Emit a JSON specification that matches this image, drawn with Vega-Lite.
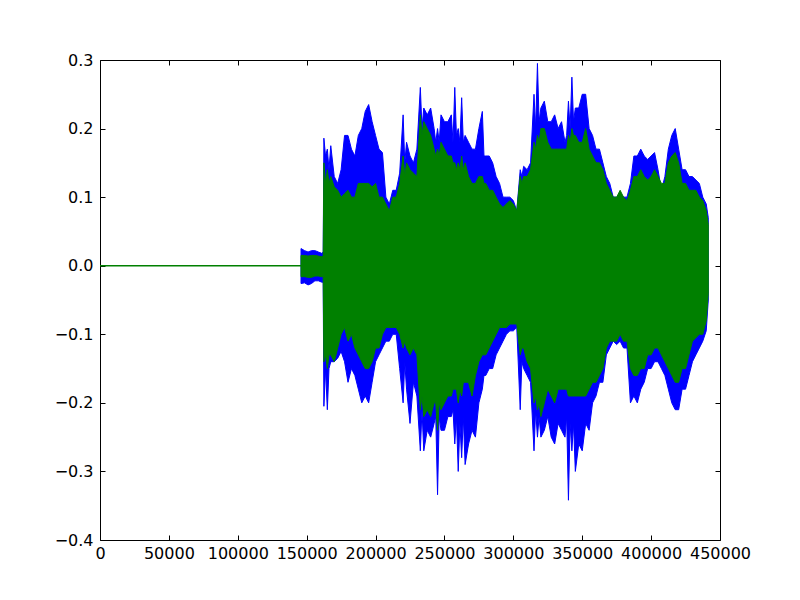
{
  "$schema": "https://vega.github.io/schema/vega-lite/v6.json",
  "width": 620,
  "height": 480,
  "autosize": "none",
  "padding": {"left": 100, "top": 60, "right": 80, "bottom": 60},
  "background": "white",
  "datasets": {
    "env": [
      {"x": 145900, "bhi": 0.025, "blo": -0.026, "ghi": 0.015, "glo": -0.016},
      {"x": 148500, "bhi": 0.022, "blo": -0.025, "ghi": 0.015, "glo": -0.016},
      {"x": 151000, "bhi": 0.02, "blo": -0.028, "ghi": 0.014, "glo": -0.017},
      {"x": 153500, "bhi": 0.022, "blo": -0.026, "ghi": 0.015, "glo": -0.017},
      {"x": 156000, "bhi": 0.022, "blo": -0.022, "ghi": 0.015, "glo": -0.015},
      {"x": 158500, "bhi": 0.02, "blo": -0.022, "ghi": 0.014, "glo": -0.015},
      {"x": 161000, "bhi": 0.018, "blo": -0.024, "ghi": 0.013, "glo": -0.016},
      {"x": 162000, "bhi": 0.02, "blo": -0.024, "ghi": 0.014, "glo": -0.016},
      {"x": 162500, "bhi": 0.186, "blo": -0.205, "ghi": 0.15, "glo": -0.14},
      {"x": 163700, "bhi": 0.16, "blo": -0.15, "ghi": 0.12, "glo": -0.13},
      {"x": 165000, "bhi": 0.17, "blo": -0.21, "ghi": 0.14, "glo": -0.15},
      {"x": 166200, "bhi": 0.14, "blo": -0.15, "ghi": 0.12, "glo": -0.13},
      {"x": 167500, "bhi": 0.175, "blo": -0.14, "ghi": 0.13, "glo": -0.13},
      {"x": 170000, "bhi": 0.13, "blo": -0.14, "ghi": 0.115, "glo": -0.14},
      {"x": 172500, "bhi": 0.12, "blo": -0.135, "ghi": 0.11, "glo": -0.12},
      {"x": 175000, "bhi": 0.14, "blo": -0.125, "ghi": 0.1, "glo": -0.1},
      {"x": 177500, "bhi": 0.19, "blo": -0.14, "ghi": 0.105, "glo": -0.09},
      {"x": 180000, "bhi": 0.19, "blo": -0.17, "ghi": 0.11, "glo": -0.11},
      {"x": 182500, "bhi": 0.17, "blo": -0.15, "ghi": 0.1, "glo": -0.1},
      {"x": 185000, "bhi": 0.16, "blo": -0.16, "ghi": 0.1, "glo": -0.12},
      {"x": 187500, "bhi": 0.19, "blo": -0.18, "ghi": 0.12, "glo": -0.13},
      {"x": 190000, "bhi": 0.2, "blo": -0.2, "ghi": 0.12, "glo": -0.14},
      {"x": 192500, "bhi": 0.225, "blo": -0.19, "ghi": 0.12, "glo": -0.15},
      {"x": 195000, "bhi": 0.235, "blo": -0.2, "ghi": 0.12, "glo": -0.15},
      {"x": 197500, "bhi": 0.21, "blo": -0.17, "ghi": 0.115, "glo": -0.14},
      {"x": 200000, "bhi": 0.19, "blo": -0.14, "ghi": 0.12, "glo": -0.12},
      {"x": 202500, "bhi": 0.17, "blo": -0.13, "ghi": 0.1, "glo": -0.12},
      {"x": 205000, "bhi": 0.165, "blo": -0.12, "ghi": 0.1, "glo": -0.1},
      {"x": 207500, "bhi": 0.1, "blo": -0.11, "ghi": 0.09, "glo": -0.09},
      {"x": 210000, "bhi": 0.09, "blo": -0.11, "ghi": 0.08, "glo": -0.09},
      {"x": 212500, "bhi": 0.11, "blo": -0.1, "ghi": 0.1, "glo": -0.09},
      {"x": 215000, "bhi": 0.11, "blo": -0.1, "ghi": 0.1, "glo": -0.09},
      {"x": 217500, "bhi": 0.135, "blo": -0.15, "ghi": 0.12, "glo": -0.1},
      {"x": 220000, "bhi": 0.22, "blo": -0.2, "ghi": 0.16, "glo": -0.12},
      {"x": 221200, "bhi": 0.15, "blo": -0.14, "ghi": 0.13, "glo": -0.11},
      {"x": 222500, "bhi": 0.18, "blo": -0.18, "ghi": 0.15, "glo": -0.12},
      {"x": 225000, "bhi": 0.16, "blo": -0.23, "ghi": 0.14, "glo": -0.13},
      {"x": 227500, "bhi": 0.15, "blo": -0.17, "ghi": 0.135, "glo": -0.12},
      {"x": 230000, "bhi": 0.17, "blo": -0.19, "ghi": 0.13, "glo": -0.13},
      {"x": 232500, "bhi": 0.26, "blo": -0.27, "ghi": 0.22, "glo": -0.21},
      {"x": 233700, "bhi": 0.2, "blo": -0.21, "ghi": 0.19, "glo": -0.19},
      {"x": 235000, "bhi": 0.23, "blo": -0.27, "ghi": 0.21, "glo": -0.22},
      {"x": 237500, "bhi": 0.22, "blo": -0.24, "ghi": 0.2, "glo": -0.21},
      {"x": 240000, "bhi": 0.23, "blo": -0.25, "ghi": 0.19, "glo": -0.22},
      {"x": 242500, "bhi": 0.2, "blo": -0.23, "ghi": 0.17, "glo": -0.2},
      {"x": 243700, "bhi": 0.18, "blo": -0.22, "ghi": 0.16, "glo": -0.2},
      {"x": 245000, "bhi": 0.2, "blo": -0.334, "ghi": 0.17, "glo": -0.24},
      {"x": 246200, "bhi": 0.18, "blo": -0.22, "ghi": 0.16, "glo": -0.2},
      {"x": 247500, "bhi": 0.22, "blo": -0.24, "ghi": 0.18, "glo": -0.21},
      {"x": 250000, "bhi": 0.21, "blo": -0.24, "ghi": 0.17, "glo": -0.2},
      {"x": 252500, "bhi": 0.21, "blo": -0.22, "ghi": 0.16, "glo": -0.19},
      {"x": 255000, "bhi": 0.22, "blo": -0.22, "ghi": 0.16, "glo": -0.19},
      {"x": 256200, "bhi": 0.18, "blo": -0.21, "ghi": 0.15, "glo": -0.18},
      {"x": 257500, "bhi": 0.26, "blo": -0.26, "ghi": 0.15, "glo": -0.18},
      {"x": 258700, "bhi": 0.19, "blo": -0.22, "ghi": 0.14, "glo": -0.18},
      {"x": 260000, "bhi": 0.2, "blo": -0.3, "ghi": 0.15, "glo": -0.2},
      {"x": 261200, "bhi": 0.18, "blo": -0.23, "ghi": 0.14, "glo": -0.18},
      {"x": 262500, "bhi": 0.245, "blo": -0.28, "ghi": 0.16, "glo": -0.19},
      {"x": 263700, "bhi": 0.18, "blo": -0.22, "ghi": 0.14, "glo": -0.17},
      {"x": 265000, "bhi": 0.19, "blo": -0.29, "ghi": 0.15, "glo": -0.17},
      {"x": 267500, "bhi": 0.18, "blo": -0.26, "ghi": 0.13, "glo": -0.17},
      {"x": 270000, "bhi": 0.17, "blo": -0.24, "ghi": 0.12, "glo": -0.19},
      {"x": 272500, "bhi": 0.17, "blo": -0.25, "ghi": 0.12, "glo": -0.16},
      {"x": 275000, "bhi": 0.2, "blo": -0.2, "ghi": 0.13, "glo": -0.14},
      {"x": 277500, "bhi": 0.225, "blo": -0.18, "ghi": 0.13, "glo": -0.13},
      {"x": 278700, "bhi": 0.16, "blo": -0.16, "ghi": 0.12, "glo": -0.13},
      {"x": 280000, "bhi": 0.16, "blo": -0.16, "ghi": 0.12, "glo": -0.13},
      {"x": 282500, "bhi": 0.16, "blo": -0.15, "ghi": 0.11, "glo": -0.12},
      {"x": 285000, "bhi": 0.15, "blo": -0.15, "ghi": 0.11, "glo": -0.11},
      {"x": 287500, "bhi": 0.13, "blo": -0.13, "ghi": 0.1, "glo": -0.1},
      {"x": 290000, "bhi": 0.12, "blo": -0.12, "ghi": 0.09, "glo": -0.09},
      {"x": 292500, "bhi": 0.1, "blo": -0.11, "ghi": 0.085, "glo": -0.09},
      {"x": 295000, "bhi": 0.1, "blo": -0.1, "ghi": 0.09, "glo": -0.09},
      {"x": 297500, "bhi": 0.1, "blo": -0.095, "ghi": 0.095, "glo": -0.085},
      {"x": 300000, "bhi": 0.095, "blo": -0.095, "ghi": 0.09, "glo": -0.085},
      {"x": 302500, "bhi": 0.08, "blo": -0.09, "ghi": 0.08, "glo": -0.085},
      {"x": 305000, "bhi": 0.14, "blo": -0.21, "ghi": 0.13, "glo": -0.13},
      {"x": 306200, "bhi": 0.13, "blo": -0.14, "ghi": 0.12, "glo": -0.12},
      {"x": 307500, "bhi": 0.145, "blo": -0.15, "ghi": 0.13, "glo": -0.12},
      {"x": 310000, "bhi": 0.14, "blo": -0.16, "ghi": 0.13, "glo": -0.14},
      {"x": 312500, "bhi": 0.15, "blo": -0.17, "ghi": 0.14, "glo": -0.15},
      {"x": 315000, "bhi": 0.25, "blo": -0.27, "ghi": 0.18, "glo": -0.2},
      {"x": 316200, "bhi": 0.2, "blo": -0.21, "ghi": 0.17, "glo": -0.19},
      {"x": 317500, "bhi": 0.295, "blo": -0.25, "ghi": 0.19, "glo": -0.21},
      {"x": 318700, "bhi": 0.21, "blo": -0.22, "ghi": 0.18, "glo": -0.2},
      {"x": 320000, "bhi": 0.23, "blo": -0.25, "ghi": 0.2, "glo": -0.22},
      {"x": 322500, "bhi": 0.24, "blo": -0.24, "ghi": 0.2, "glo": -0.2},
      {"x": 325000, "bhi": 0.21, "blo": -0.22, "ghi": 0.18, "glo": -0.18},
      {"x": 327500, "bhi": 0.21, "blo": -0.25, "ghi": 0.17, "glo": -0.19},
      {"x": 330000, "bhi": 0.22, "blo": -0.26, "ghi": 0.17, "glo": -0.2},
      {"x": 332500, "bhi": 0.2, "blo": -0.23, "ghi": 0.17, "glo": -0.18},
      {"x": 335000, "bhi": 0.21, "blo": -0.24, "ghi": 0.17, "glo": -0.18},
      {"x": 337500, "bhi": 0.18, "blo": -0.25, "ghi": 0.17, "glo": -0.18},
      {"x": 338700, "bhi": 0.19, "blo": -0.22, "ghi": 0.17, "glo": -0.18},
      {"x": 340000, "bhi": 0.24, "blo": -0.342, "ghi": 0.19, "glo": -0.19},
      {"x": 341200, "bhi": 0.2, "blo": -0.23, "ghi": 0.18, "glo": -0.19},
      {"x": 342500, "bhi": 0.275, "blo": -0.27, "ghi": 0.2, "glo": -0.19},
      {"x": 343700, "bhi": 0.21, "blo": -0.23, "ghi": 0.19, "glo": -0.19},
      {"x": 345000, "bhi": 0.23, "blo": -0.3, "ghi": 0.19, "glo": -0.19},
      {"x": 347500, "bhi": 0.23, "blo": -0.26, "ghi": 0.18, "glo": -0.19},
      {"x": 350000, "bhi": 0.25, "blo": -0.27, "ghi": 0.18, "glo": -0.19},
      {"x": 352500, "bhi": 0.25, "blo": -0.23, "ghi": 0.2, "glo": -0.19},
      {"x": 355000, "bhi": 0.2, "blo": -0.24, "ghi": 0.17, "glo": -0.18},
      {"x": 357500, "bhi": 0.19, "blo": -0.2, "ghi": 0.16, "glo": -0.17},
      {"x": 360000, "bhi": 0.17, "blo": -0.19, "ghi": 0.15, "glo": -0.17},
      {"x": 362500, "bhi": 0.17, "blo": -0.17, "ghi": 0.15, "glo": -0.16},
      {"x": 365000, "bhi": 0.15, "blo": -0.17, "ghi": 0.14, "glo": -0.15},
      {"x": 367500, "bhi": 0.13, "blo": -0.13, "ghi": 0.12, "glo": -0.12},
      {"x": 370000, "bhi": 0.12, "blo": -0.12, "ghi": 0.11, "glo": -0.11},
      {"x": 372500, "bhi": 0.1, "blo": -0.11, "ghi": 0.1, "glo": -0.11},
      {"x": 375000, "bhi": 0.1, "blo": -0.115, "ghi": 0.1, "glo": -0.11},
      {"x": 377500, "bhi": 0.105, "blo": -0.11, "ghi": 0.11, "glo": -0.1},
      {"x": 380000, "bhi": 0.1, "blo": -0.12, "ghi": 0.1, "glo": -0.11},
      {"x": 382500, "bhi": 0.1, "blo": -0.12, "ghi": 0.095, "glo": -0.11},
      {"x": 385000, "bhi": 0.12, "blo": -0.2, "ghi": 0.11, "glo": -0.15},
      {"x": 387500, "bhi": 0.16, "blo": -0.19, "ghi": 0.13, "glo": -0.16},
      {"x": 390000, "bhi": 0.16, "blo": -0.2, "ghi": 0.13, "glo": -0.16},
      {"x": 392500, "bhi": 0.17, "blo": -0.18, "ghi": 0.14, "glo": -0.15},
      {"x": 395000, "bhi": 0.16, "blo": -0.17, "ghi": 0.13, "glo": -0.15},
      {"x": 397500, "bhi": 0.155, "blo": -0.15, "ghi": 0.125, "glo": -0.13},
      {"x": 400000, "bhi": 0.16, "blo": -0.15, "ghi": 0.13, "glo": -0.13},
      {"x": 402500, "bhi": 0.165, "blo": -0.14, "ghi": 0.14, "glo": -0.12},
      {"x": 405000, "bhi": 0.14, "blo": -0.14, "ghi": 0.13, "glo": -0.12},
      {"x": 407500, "bhi": 0.11, "blo": -0.15, "ghi": 0.12, "glo": -0.13},
      {"x": 410000, "bhi": 0.13, "blo": -0.16, "ghi": 0.12, "glo": -0.14},
      {"x": 412500, "bhi": 0.17, "blo": -0.18, "ghi": 0.15, "glo": -0.15},
      {"x": 415000, "bhi": 0.19, "blo": -0.2, "ghi": 0.16, "glo": -0.16},
      {"x": 417500, "bhi": 0.2, "blo": -0.21, "ghi": 0.165, "glo": -0.17},
      {"x": 420000, "bhi": 0.17, "blo": -0.21, "ghi": 0.15, "glo": -0.17},
      {"x": 422500, "bhi": 0.14, "blo": -0.18, "ghi": 0.12, "glo": -0.15},
      {"x": 425000, "bhi": 0.14, "blo": -0.18, "ghi": 0.12, "glo": -0.15},
      {"x": 427500, "bhi": 0.13, "blo": -0.16, "ghi": 0.11, "glo": -0.13},
      {"x": 430000, "bhi": 0.13, "blo": -0.14, "ghi": 0.11, "glo": -0.11},
      {"x": 432500, "bhi": 0.125, "blo": -0.13, "ghi": 0.11, "glo": -0.105},
      {"x": 435000, "bhi": 0.12, "blo": -0.12, "ghi": 0.1, "glo": -0.1},
      {"x": 437500, "bhi": 0.1, "blo": -0.11, "ghi": 0.095, "glo": -0.1},
      {"x": 440000, "bhi": 0.09, "blo": -0.095, "ghi": 0.08, "glo": -0.08},
      {"x": 441500, "bhi": 0.07, "blo": -0.05, "ghi": 0.06, "glo": -0.04}
    ],
    "zero": [
      {"x": 0, "y": 0}, {"x": 146000, "y": 0}
    ]
  },
  "layer": [
    {
      "data": {"name": "env"},
      "mark": {"type": "area", "color": "#0000ff", "stroke": "#0000ff", "strokeWidth": 1, "clip": true},
      "encoding": {
        "x": {"field": "x", "type": "quantitative", "scale": {"domain": [0, 450000], "nice": false},
              "axis": {"orient": "bottom", "values": [0, 50000, 100000, 150000, 200000, 250000, 300000, 350000, 400000, 450000], "format": "d", "title": null, "labelOverlap": false, "labelFlush": false, "labelPadding": 10}},
        "y": {"field": "bhi", "type": "quantitative", "scale": {"domain": [-0.4, 0.3], "nice": false, "zero": false},
              "axis": {"orient": "left", "values": [-0.4, -0.3, -0.2, -0.1, 0, 0.1, 0.2, 0.3], "format": ".1f", "title": null, "labelOverlap": false, "labelFlush": false, "labelPadding": 12}},
        "y2": {"field": "blo"}
      }
    },
    {
      "data": {"name": "env"},
      "mark": {"type": "area", "color": "#008000", "stroke": "#008000", "strokeWidth": 1, "clip": true},
      "encoding": {
        "x": {"field": "x", "type": "quantitative",
              "axis": {"orient": "top", "values": [0, 50000, 100000, 150000, 200000, 250000, 300000, 350000, 400000, 450000], "labels": false, "title": null}},
        "y": {"field": "ghi", "type": "quantitative",
              "axis": {"orient": "right", "values": [-0.4, -0.3, -0.2, -0.1, 0, 0.1, 0.2, 0.3], "labels": false, "title": null}},
        "y2": {"field": "glo"}
      }
    },
    {
      "data": {"name": "zero"},
      "mark": {"type": "line", "color": "#008000", "strokeWidth": 1.5, "clip": true},
      "encoding": {
        "x": {"field": "x", "type": "quantitative", "axis": null},
        "y": {"field": "y", "type": "quantitative", "axis": null}
      }
    }
  ],
  "resolve": {"axis": {"x": "independent", "y": "independent"}},
  "config": {
    "view": {"stroke": "black", "strokeWidth": 1},
    "axis": {
      "grid": false, "domain": false,
      "tickColor": "black", "tickSize": -5, "tickWidth": 1,
      "labelColor": "black", "labelFont": "DejaVu Sans", "labelFontSize": 16
    }
  }
}
